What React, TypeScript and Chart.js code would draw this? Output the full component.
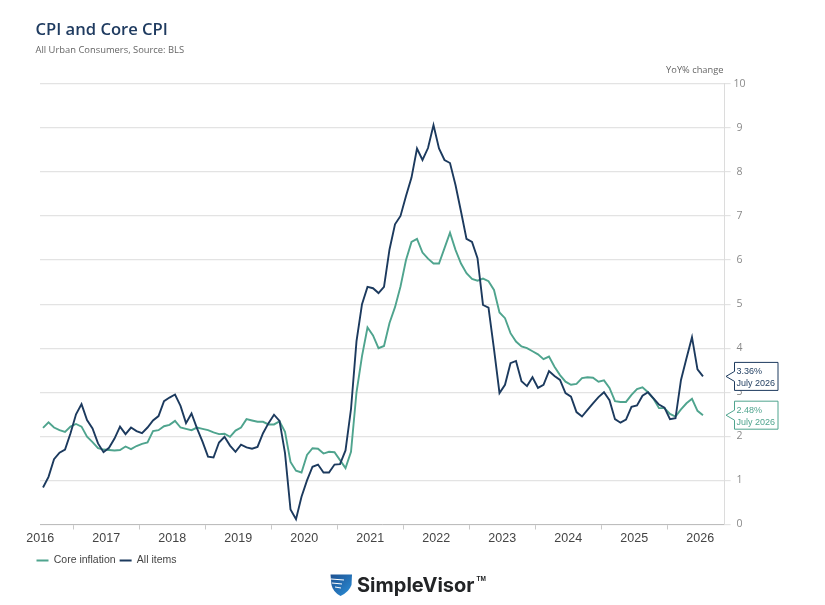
import React, { useEffect, useRef } from "react";
import { Chart, registerables } from "chart.js";

Chart.register(...registerables);

const allItems = [
  0.84, 1.08, 1.48, 1.63, 1.70, 2.07, 2.50, 2.73, 2.37, 2.18, 1.84, 1.64,
  1.74, 1.95, 2.22, 2.05, 2.20, 2.12, 2.07, 2.20, 2.36, 2.46, 2.80, 2.88,
  2.95, 2.69, 2.30, 2.52, 2.18, 1.88, 1.54, 1.52, 1.86, 1.99, 1.79, 1.65,
  1.81, 1.75, 1.72, 1.76, 2.07, 2.30, 2.49, 2.35, 1.62, 0.34, 0.12, 0.63,
  1.00, 1.31, 1.36, 1.18, 1.18, 1.36, 1.37, 1.68, 2.62, 4.16, 5.00, 5.39,
  5.36, 5.25, 5.39, 6.24, 6.81, 7.00, 7.45, 7.87, 8.53, 8.27, 8.54, 9.06,
  8.53, 8.27, 8.20, 7.70, 7.10, 6.48, 6.41, 6.04, 4.98, 4.92, 3.98, 2.98,
  3.17, 3.66, 3.71, 3.25, 3.14, 3.34, 3.10, 3.17, 3.48, 3.37, 3.28, 2.98,
  2.90, 2.55, 2.45, 2.60, 2.75, 2.89, 3.00, 2.82, 2.39, 2.31, 2.38, 2.67,
  2.70, 2.92, 3.00, 2.86, 2.72, 2.65, 2.39, 2.41, 3.28, 3.77, 4.25, 3.52,
  3.36,
];

const coreInflation = [
  2.19, 2.32, 2.20, 2.14, 2.10, 2.22, 2.28, 2.22, 1.99, 1.87, 1.73, 1.70,
  1.69, 1.68, 1.69, 1.77, 1.71, 1.78, 1.83, 1.86, 2.12, 2.14, 2.23, 2.26,
  2.35, 2.20, 2.17, 2.14, 2.20, 2.17, 2.14, 2.09, 2.05, 2.06, 1.99, 2.13,
  2.20, 2.39, 2.36, 2.33, 2.33, 2.27, 2.27, 2.34, 2.10, 1.42, 1.22, 1.18,
  1.58, 1.73, 1.72, 1.61, 1.65, 1.64, 1.46, 1.28, 1.65, 3.00, 3.82, 4.47,
  4.29, 4.00, 4.05, 4.57, 4.93, 5.40, 6.00, 6.41, 6.48, 6.17, 6.03, 5.92,
  5.92, 6.27, 6.62, 6.23, 5.92, 5.70, 5.57, 5.53, 5.58, 5.52, 5.32, 4.81,
  4.68, 4.34, 4.15, 4.04, 4.00, 3.93, 3.86, 3.75, 3.81, 3.58, 3.39, 3.24,
  3.17, 3.19, 3.32, 3.34, 3.33, 3.24, 3.27, 3.10, 2.80, 2.78, 2.78, 2.94,
  3.07, 3.11, 3.00, 2.85, 2.64, 2.64, 2.51, 2.45, 2.61, 2.75, 2.85, 2.58,
  2.48,
];

const yearLabels = ["2016", "2017", "2018", "2019", "2020", "2021", "2022", "2023", "2024", "2025", "2026"];
const calloutDate = "July 2026";
const titleText = "CPI and Core CPI";
const subtitleText = "All Urban Consumers, Source: BLS";
const unitText = "YoY% change";
const brandText = "SimpleVisor";

const NAVY = "#1c3a5e";
const GREEN = "#4fa48e";

const labelFor = (v: number) => {
  const k = (v + 0.5) / 12;
  return Number.isInteger(k) ? yearLabels[k] ?? "" : "";
};

function callout(ctx: CanvasRenderingContext2D, yPx: number, color: string, value: number) {
  const left = 734.5, right = 778, tip = 726, h = 28;
  const top = yPx - 14, bottom = top + h;
  ctx.save();
  ctx.beginPath();
  ctx.moveTo(left, top);
  ctx.lineTo(right, top);
  ctx.lineTo(right, bottom);
  ctx.lineTo(left, bottom);
  ctx.lineTo(left, yPx + 5);
  ctx.lineTo(tip, yPx);
  ctx.lineTo(left, yPx - 5);
  ctx.closePath();
  ctx.fillStyle = "#fff";
  ctx.fill();
  ctx.strokeStyle = color;
  ctx.lineWidth = 1;
  ctx.stroke();
  ctx.fillStyle = color;
  ctx.font = '9px "Liberation Sans"';
  ctx.textAlign = "left";
  ctx.textBaseline = "alphabetic";
  ctx.fillText(value.toFixed(2) + "%", 736.5, top + 11.5);
  ctx.fillText(calloutDate, 736.5, top + 23.5);
  ctx.restore();
}

function logo(ctx: CanvasRenderingContext2D) {
  ctx.save();
  const g = ctx.createLinearGradient(330, 574, 352, 596);
  g.addColorStop(0, "#1d4f8f");
  g.addColorStop(1, "#2b8fd8");
  ctx.fillStyle = g;
  ctx.beginPath();
  ctx.moveTo(330.5, 574.5);
  ctx.lineTo(352, 574.5);
  ctx.lineTo(351.5, 585);
  ctx.quadraticCurveTo(349, 592, 340.5, 596);
  ctx.quadraticCurveTo(333, 592, 331.5, 585);
  ctx.closePath();
  ctx.fill();
  ctx.strokeStyle = "#fff";
  ctx.lineWidth = 1;
  ctx.beginPath();
  ctx.moveTo(331, 579);
  ctx.lineTo(344, 580);
  ctx.moveTo(332, 583);
  ctx.lineTo(342, 584);
  ctx.moveTo(335, 587);
  ctx.lineTo(341, 588);
  ctx.stroke();
  ctx.fillStyle = "#222426";
  ctx.font = '700 20px "Inter"';
  ctx.textAlign = "left";
  ctx.textBaseline = "alphabetic";
  ctx.fillText(brandText, 357, 592);
  const w = ctx.measureText(brandText).width;
  ctx.font = '700 6.5px "Liberation Sans"';
  ctx.fillText("TM", 357 + w + 2, 581);
  ctx.restore();
}

const decorations = {
  id: "decorations",
  afterLayout(chart: any) {
    if (chart.legend) {
      chart.legend.left = 32.5;
      chart.legend.top = 563.5 - chart.legend.height / 2;
    }
  },
  afterDraw(chart: any) {
    const { ctx, scales } = chart;
    ctx.save();
    ctx.textAlign = "left";
    ctx.textBaseline = "alphabetic";
    ctx.fillStyle = "#1f3b60";
    ctx.font = '600 16.6px "Open Sans"';
    ctx.fillText(titleText, 35.5, 35);
    ctx.fillStyle = "#666";
    ctx.font = '400 9.4px "Open Sans"';
    ctx.fillText(subtitleText, 35.5, 53);
    ctx.textAlign = "right";
    ctx.font = '400 9.3px "Open Sans"';
    ctx.fillText(unitText, 723.5, 73);
    ctx.restore();
    const y = scales.y;
    callout(ctx, y.getPixelForValue(allItems[allItems.length - 1]), NAVY, allItems[allItems.length - 1]);
    callout(ctx, y.getPixelForValue(coreInflation[coreInflation.length - 1]), GREEN, coreInflation[coreInflation.length - 1]);
    logo(ctx);
  },
};

export default function App() {
  const ref = useRef<HTMLCanvasElement>(null);
  useEffect(() => {
    const chart = new Chart(ref.current!, {
      type: "line",
      plugins: [decorations],
      data: {
        datasets: [
          {
            label: "Core inflation",
            data: coreInflation.map((v, i) => ({ x: i, y: v })),
            borderColor: GREEN,
            backgroundColor: GREEN,
            borderWidth: 1.9,
            pointRadius: 0,
            tension: 0,
            order: 1,
          },
          {
            label: "All items",
            data: allItems.map((v, i) => ({ x: i, y: v })),
            borderColor: NAVY,
            backgroundColor: NAVY,
            borderWidth: 1.9,
            pointRadius: 0,
            tension: 0,
            order: 0,
          },
        ],
      },
      options: {
        animation: false,
        responsive: false,
        maintainAspectRatio: false,
        layout: { padding: { left: 40, top: 83.7, right: 0, bottom: 0 } },
        plugins: {
          tooltip: { enabled: false },
          legend: {
            position: "bottom",
            align: "start",
            labels: {
              usePointStyle: true,
              pointStyle: "line",
              pointStyleWidth: 12,
              padding: 4,
              color: "#444",
              font: { family: '"Liberation Sans"', size: 10.5 },
              sort: (a: any, b: any) => a.datasetIndex - b.datasetIndex,
            },
          },
        },
        scales: {
          x: {
            type: "linear",
            min: -0.55,
            max: 123.93,
            afterBuildTicks: (s: any) => {
              const t = [];
              for (let v = -0.5; v < 123; v += 6) t.push({ value: v });
              s.ticks = t;
            },
            afterFit: (s: any) => {
              s.height = 80.5 - (s.chart.legend?.height ?? 0);
            },
            grid: {
              drawOnChartArea: false,
              tickLength: 5,
              tickColor: (c: any) => (c.tick && labelFor(c.tick.value) ? "rgba(0,0,0,0)" : "#c8c8c8"),
            },
            border: { color: "#bdbdbd", width: 1 },
            ticks: {
              autoSkip: false,
              maxRotation: 0,
              minRotation: 0,
              padding: 2,
              color: "#444",
              font: { family: '"Liberation Sans"', size: 12.5 },
              callback: (v: any) => labelFor(Number(v)),
            },
          },
          y: {
            position: "right",
            min: 0,
            max: 10,
            afterFit: (s: any) => {
              s.width = 100.4;
            },
            grid: { color: "#e3e3e3", lineWidth: 1.2, tickLength: 6, tickColor: "#e3e3e3" },
            border: { color: "#dcdcdc", width: 1 },
            ticks: {
              stepSize: 1,
              padding: 3,
              crossAlign: "center",
              color: "#8a8a8a",
              font: { family: '"Open Sans"', size: 10.5 },
            },
          },
        },
      },
    } as any);
    return () => chart.destroy();
  }, []);
  return (
    <div style={{ position: "absolute", left: 0, top: 0, width: 825, height: 605, background: "#fff" }}>
      <canvas ref={ref} width={825} height={605} style={{ display: "block" }} />
    </div>
  );
}
